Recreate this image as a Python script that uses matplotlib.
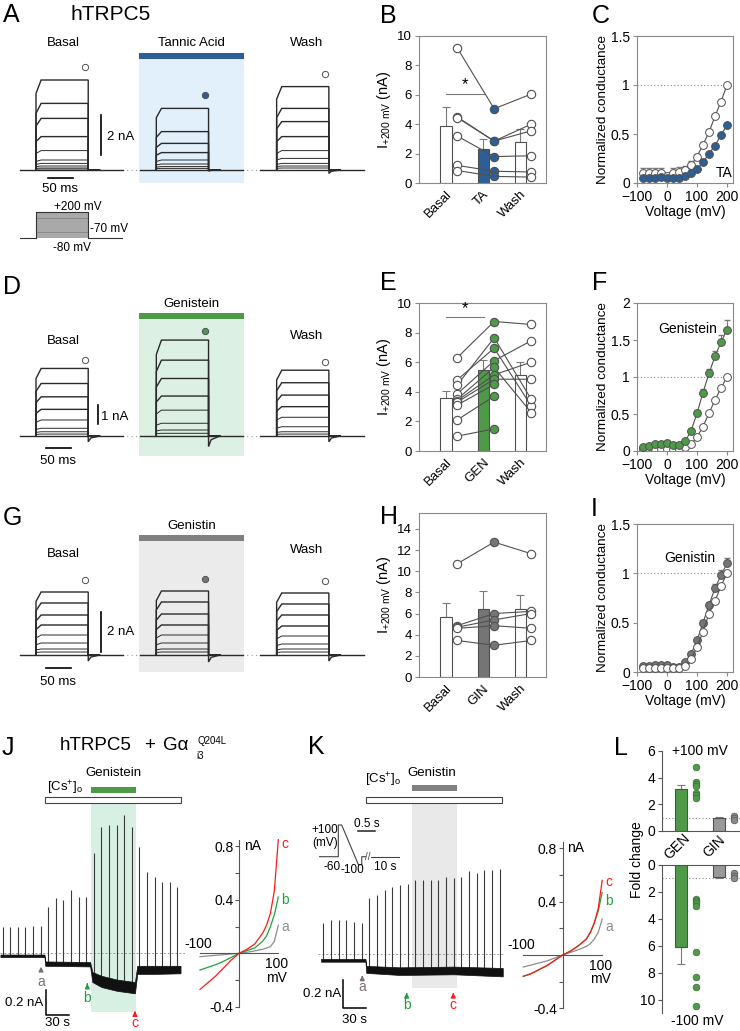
import numpy as np
import matplotlib
matplotlib.use('Agg')
import matplotlib.pyplot as plt
from matplotlib.patches import Rectangle
from matplotlib.transforms import blended_transform_factory

plt.rcParams['font.family'] = ['Liberation Sans', 'DejaVu Sans']
plt.rcParams['mathtext.fontset'] = 'custom'
plt.rcParams['mathtext.rm'] = 'Liberation Sans'
plt.rcParams['mathtext.it'] = 'Liberation Sans:italic'
plt.rcParams['mathtext.bf'] = 'Liberation Sans:bold'
plt.rcParams['font.size'] = 9.5
plt.rcParams['axes.linewidth'] = 0.8

# ======================= DATA =======================
# A / D / G : example current traces, steady current (nA) at each voltage step
A_basal_amp = [4.5, 3.33, 2.58, 1.67, 0.97, 0.5, 0.33, 0.2, 0.1, 0.05]
A_ta_amp = [3.08, 1.92, 1.33, 0.87, 0.5, 0.3, 0.17, 0.08]
A_wash_amp = [4.17, 3.08, 2.42, 1.67, 0.97, 0.58, 0.33, 0.2, 0.1]
A_tail = [0.0, 0.05, 0.17]
D_basal_amp = [3.5, 2.72, 2.03, 1.38, 0.83, 0.4, 0.22, 0.1]
D_gen_amp = [4.97, 3.93, 2.98, 2.07, 1.34, 0.66, 0.31, 0.14]
D_wash_amp = [3.41, 2.76, 2.12, 1.52, 0.97, 0.48, 0.22, 0.1]
D_tail = [0.3, 0.55, 0.3]
G_basal_amp = [3.15, 2.6, 2.0, 1.5, 1.0, 0.6, 0.3, 0.15]
G_gin_amp = [3.2, 2.65, 2.05, 1.5, 1.0, 0.6, 0.3, 0.15]
G_wash_amp = [3.1, 2.55, 2.0, 1.45, 0.95, 0.55, 0.3, 0.15]
G_tail = [0.3, 0.35, 0.3]
PULSE_MS = 102
PROTO_STEPS = [-70, -60, -50, -40, -30, -20, -10, 0, 10, 20, 30, 40, 50, 60, 70,
               80, 90, 100, 110, 120, 130, 140, 150, 160, 170, 180, 190, 200]

# B / E / H : I+200 mV (nA)
cond_B = ['Basal', 'TA', 'Wash']
B_mean = [3.9, 2.3, 2.78]
B_err = [1.25, 0.7, 0.9]
B_basal = [9.2, 4.5, 4.45, 3.2, 1.2, 0.85]
B_ta = [5.05, 2.85, 2.85, 1.8, 0.8, 0.45]
B_wash = [6.05, 4.0, 3.55, 1.85, 0.75, 0.4]

cond_E = ['Basal', 'GEN', 'Wash']
E_mean = [3.58, 5.48, 5.14]
E_err = [0.45, 0.65, 0.85]
E_basal = [6.3, 4.8, 4.45, 3.85, 3.5, 3.4, 3.3, 3.1, 2.1, 1.0]
E_gen = [8.75, 6.95, 7.65, 6.1, 5.65, 5.15, 4.85, 4.5, 3.7, 1.5]
E_wash = [8.55, 3.05, 3.5, 7.45, 2.6, 6.0, 4.85, np.nan, np.nan, np.nan]

cond_H = ['Basal', 'GIN', 'Wash']
H_mean = [5.66, 6.4, 6.38]
H_err = [1.3, 1.7, 1.4]
H_basal = [10.7, 4.85, 4.7, 4.6, 3.45]
H_gin = [12.75, 6.0, 5.4, 4.85, 3.0]
H_wash = [11.65, 6.2, 6.0, 4.6, 3.45]

# C / F / I : normalized conductance
V_g = [-80, -60, -40, -20, 0, 20, 40, 60, 80, 100, 120, 140, 160, 180, 200]
C_ctrl = [0.1, 0.1, 0.1, 0.1, 0.07, 0.1, 0.11, 0.13, 0.18, 0.27, 0.39, 0.52, 0.68, 0.83, 1.0]
C_ctrl_err = [0.05, 0.05, 0.05, 0.05, 0.03, 0.05, 0.05, 0.04, 0.04, 0.03, 0.03, 0.03, 0.02, 0.02, 0.0]
C_ta = [0.05, 0.05, 0.05, 0.06, 0.05, 0.05, 0.05, 0.07, 0.1, 0.146, 0.21, 0.3, 0.38, 0.49, 0.59]
C_ta_err = [0.01, 0.01, 0.01, 0.01, 0.01, 0.01, 0.01, 0.01, 0.01, 0.01, 0.02, 0.02, 0.02, 0.02, 0.02]
F_ctrl = [0.03, 0.03, 0.03, 0.03, 0.03, 0.03, 0.03, 0.05, 0.09, 0.19, 0.33, 0.51, 0.69, 0.85, 1.0]
F_ctrl_err = [0.01] * 14 + [0.0]
F_gen = [0.06, 0.07, 0.09, 0.1, 0.11, 0.08, 0.08, 0.13, 0.27, 0.51, 0.79, 1.05, 1.28, 1.47, 1.64]
F_gen_err = [0.01, 0.01, 0.01, 0.01, 0.01, 0.01, 0.01, 0.02, 0.03, 0.04, 0.05, 0.06, 0.07, 0.1, 0.13]
I_ctrl = [0.04, 0.04, 0.04, 0.04, 0.04, 0.04, 0.04, 0.06, 0.13, 0.25, 0.41, 0.59, 0.72, 0.87, 1.0]
I_ctrl_err = [0.01] * 14 + [0.0]
I_gin = [0.06, 0.065, 0.07, 0.075, 0.07, 0.05, 0.055, 0.1, 0.18, 0.32, 0.5, 0.68, 0.85, 0.98, 1.1]
I_gin_err = [0.01, 0.01, 0.01, 0.01, 0.01, 0.01, 0.01, 0.01, 0.02, 0.02, 0.03, 0.03, 0.04, 0.05, 0.06]

# J / K : time courses (s, nA)
sweep_t = [0, 10, 20, 30, 40, 50, 60, 70, 80, 90, 100, 110,
           120, 130, 140, 150, 160, 170, 180, 190, 200, 210, 220, 230]
J_peak = [0.21, 0.21, 0.21, 0.21, 0.22, 0.22, 0.37, 0.44, 0.43, 0.51, 0.45, 0.45,
          0.80, 1.01, 1.03, 1.03, 1.11, 1.01, 0.85, 0.65, 0.61, 0.57, 0.57, 0.53]
J_base = [-0.02] * 6 + [-0.09] * 6 + [-0.2, -0.23, -0.25, -0.27, -0.28, -0.29] + [-0.14] * 6
J_env_t = [-3, 55, 56, 115, 118, 130, 150, 174, 177, 200, 234]
J_env_hi = [-0.01, -0.01, -0.065, -0.07, -0.15, -0.18, -0.21, -0.23, -0.1, -0.1, -0.1]
J_env_lo = [-0.03, -0.03, -0.1, -0.105, -0.23, -0.27, -0.3, -0.32, -0.165, -0.165, -0.16]
J_cs = [55.7, 234.6]
J_drug = [116, 176]
J_marks = {'a': 50.4, 'b': 111.3, 'c': 174}

K_peak = [0.22, 0.24, 0.24, 0.24, 0.23, 0.22, 0.40, 0.42, 0.46, 0.48, 0.49, 0.50,
          0.53, 0.53, 0.53, 0.53, 0.55, 0.54, 0.55, 0.59, 0.58, 0.60, 0.60, 0.61]
K_base = [-0.045] * 6 + [-0.13] * 18
K_env_t = [-3, 55, 56, 100, 170, 234]
K_env_hi = [-0.035, -0.035, -0.085, -0.095, -0.09, -0.1]
K_env_lo = [-0.055, -0.055, -0.135, -0.15, -0.145, -0.16]
K_cs = [55.3, 232.6]
K_drug = [115.3, 174.8]
K_marks = {'a': 50.8, 'b': 108.7, 'c': 169.5}
K_proto_t = [-0.55, 0.0, 0.0, 0.1, 0.59, 0.69, 0.69, 0.8]
K_proto_v = [-60, -60, 100, 100, -100, -100, -60, -60]

# I-V ramps at the marked times
V_iv = [-100, -80, -60, -40, -20, 0, 20, 40, 60, 70, 80, 90, 100]
J_iv_a = [-0.025, -0.02, -0.015, -0.01, -0.005, 0, 0.008, 0.018, 0.03, 0.04, 0.05, 0.09, 0.21]
J_iv_b = [-0.125, -0.105, -0.085, -0.06, -0.03, 0, 0.02, 0.04, 0.09, 0.13, 0.2, 0.29, 0.42]
J_iv_c = [-0.27, -0.22, -0.17, -0.11, -0.05, 0, 0.03, 0.07, 0.15, 0.21, 0.3, 0.47, 0.85]
K_iv_a = [-0.09, -0.075, -0.06, -0.045, -0.022, 0, 0.02, 0.04, 0.065, 0.085, 0.12, 0.17, 0.27]
K_iv_b = [-0.16, -0.14, -0.11, -0.08, -0.04, 0, 0.03, 0.07, 0.12, 0.17, 0.24, 0.33, 0.47]
K_iv_c = [-0.16, -0.14, -0.11, -0.08, -0.04, 0, 0.03, 0.07, 0.12, 0.17, 0.24, 0.35, 0.56]

# L : fold change
L_groups = ['GEN', 'GIN']
L_up_mean = [3.15, 1.0]
L_up_err = [0.3, 0.03]
L_up_gen = [4.8, 3.7, 3.55, 3.4, 2.85, 2.7, 2.5]
L_up_gin = [1.15, 1.0, 0.85]
L_dn_mean = [6.08, 0.88]
L_dn_err = [1.28, 0.05]
L_dn_gen = [2.5, 2.65, 2.85, 3.05, 6.5, 8.3, 9.05, 10.5]
L_dn_gin = [0.6, 0.8, 1.0]

# ======================= STYLE =======================
BLUE = '#2d5f96'
BLUE_SH = '#e2f0fc'
GREEN = '#4f9a48'
GREEN_SH = '#dcf0e4'
GIN_C = '#757575'
GRAY_SH = '#ebebeb'
EDGE = '#505050'
SPINE = '#8a8a8a'
TRACE = '#2a2a2a'
ERRC = '#7a7a7a'
GREEN_IV = '#22a03c'
RED_IV = '#ff1a1a'
GRAY_IV = '#8c8c8c'

W, H = 740, 1031
fig = plt.figure(figsize=(W / 100, H / 100), dpi=100)


def px_axes(x0, y0, x1, y1):
    ax = fig.add_axes([x0 / W, 1 - y1 / H, (x1 - x0) / W, (y1 - y0) / H])
    ax.patch.set_alpha(0)
    return ax


def ftext(x, y, s, **kw):
    kw.setdefault('ha', 'center')
    kw.setdefault('va', 'center')
    fig.text(x / W, 1 - y / H, s, **kw)


def frect(x0, y0, x1, y1, **kw):
    fig.add_artist(Rectangle((x0 / W, 1 - y1 / H), (x1 - x0) / W, (y1 - y0) / H,
                             transform=fig.transFigure, **kw))


def fy(py):
    return 1 - py / H


# ======================= A / D / G =======================
MS_PX = 0.512
T0_PX = 36.0
OFFS = [0, 235, 470]


def row_axes(y_top, y_bot, base_px, px_per_nA):
    ax = px_axes(0, y_top, 370, y_bot)
    ax.set_xlim((0 - T0_PX) / MS_PX, (370 - T0_PX) / MS_PX)
    ax.set_ylim((base_px - y_bot) / px_per_nA, (base_px - y_top) / px_per_nA)
    ax.axis('off')
    return ax


def draw_row(ax, amps_list, tails, mark_colors, mark_off):
    ax.plot([-32, OFFS[2] + 172], [0, 0], ls=(0, (1, 3)), color='#9a9a9a', lw=0.8)
    for off, amps, tail, mc in zip(OFFS, amps_list, tails, mark_colors):
        ax.plot([off - 32, off + 170], [0, 0], color=TRACE, lw=1.0)
        for k, a in enumerate(amps):
            tl = tail if k == 0 else 0
            t = [off, off, off + 10, off + PULSE_MS, off + PULSE_MS, off + PULSE_MS + 5, off + PULSE_MS + 22]
            y = [0, 0.85 * a, a, a, -tl, -0.35 * tl, 0]
            ax.plot(t, y, color=TRACE, lw=1.0 if k < 4 else 0.7, solid_joinstyle='miter')
        ax.plot(off + 95, amps[0] + mark_off, 'o', ms=4.5, mfc=mc, mec=EDGE, mew=0.7)


# --- A
axA = row_axes(40, 200, 170, 20)
frect(139.3, 59.3, 243.7, 182.7, fc=BLUE_SH, ec='none', zorder=-1)
frect(139.3, 52.7, 243.7, 59.3, fc=BLUE, ec='none')
draw_row(axA, [A_basal_amp, A_ta_amp, A_wash_amp], A_tail, ['white', BLUE, 'white'], 0.65)
axA.plot([126.4, 126.4], [0.75, 2.75], color='k', lw=1.2)
axA.plot([22.9, 72.9], [-0.415, -0.415], color='k', lw=1.2)
ftext(106.7, 136.7, '2 nA', ha='left')
ftext(60.5, 189, '50 ms')
ftext(63.3, 43.3, 'Basal')
ftext(191.5, 43.3, 'Tannic Acid')
ftext(306.7, 43.3, 'Wash')
ftext(3, 15, 'A', fontsize=18, ha='left')
ftext(70, 14, 'hTRPC5', fontsize=15, ha='left')

# voltage protocol
axP = px_axes(20, 205, 123, 242)
axP.set_xlim((20 - T0_PX) / MS_PX, (123 - T0_PX) / MS_PX)
axP.set_ylim(-80 - 4 / 0.0929, 200 + 7 / 0.0929)
axP.axis('off')
for v in PROTO_STEPS:
    axP.plot([0, 0, PULSE_MS, PULSE_MS], [-80, v, v, -80], color='#777777', lw=0.45)
axP.plot([0, 0, PULSE_MS, PULSE_MS], [-80, 200, 200, -80], color='#333333', lw=0.8)
axP.plot([-31, 0], [-80, -80], color='#333333', lw=0.8)
axP.plot([PULSE_MS, 170], [-80, -80], color='#333333', lw=0.8)
ftext(78.3, 206.5, '+200 mV', fontsize=8.5)
ftext(90.5, 229.3, '-70 mV', fontsize=8.5, ha='left')
ftext(72, 248.3, '-80 mV', fontsize=8.5)

# --- D
axD = row_axes(320, 462, 436, 19.3)
frect(139.3, 319.3, 243.7, 455.7, fc=GREEN_SH, ec='none', zorder=-1)
frect(139.3, 313.3, 243.7, 319.3, fc=GREEN, ec='none')
draw_row(axD, [D_basal_amp, D_gen_amp, D_wash_amp], D_tail, ['white', GREEN, 'white'], 0.45)
axD.plot([120.5, 120.5], [0.6, 1.6], color='k', lw=1.2)
axD.plot([19, 69], [-0.61, -0.61], color='k', lw=1.2)
ftext(101, 416.7, '1 nA', ha='left')
ftext(58.3, 461, '50 ms')
ftext(63.3, 340.7, 'Basal')
ftext(191.7, 304, 'Genistein')
ftext(306.7, 336, 'Wash')
ftext(3, 287, 'D', fontsize=18, ha='left')

# --- G
axG = row_axes(560, 690, 655, 20)
frect(139.3, 541, 243.7, 672, fc=GRAY_SH, ec='none', zorder=-1)
frect(139.3, 535, 243.7, 541, fc='#808080', ec='none')
draw_row(axG, [G_basal_amp, G_gin_amp, G_wash_amp], G_tail, ['white', GIN_C, 'white'], 0.6)
axG.plot([126.4, 126.4], [0.15, 2.15], color='k', lw=1.2)
axG.plot([19, 69], [-0.65, -0.65], color='k', lw=1.2)
ftext(106.7, 632, '2 nA', ha='left')
ftext(58.3, 682, '50 ms')
ftext(63.3, 554.3, 'Basal')
ftext(191.7, 525.7, 'Genistin')
ftext(306.7, 550, 'Wash')
ftext(3, 518, 'G', fontsize=18, ha='left')


# ======================= B / E / H =======================
def bar_panel(ax, cats, means, errs, groups, drug_color, ylim, yticks):
    x = [0, 1, 2]
    colors = ['white', drug_color, 'white']
    for xi, m, e in zip(x, means, errs):
        ax.errorbar([xi], [m], yerr=[[0], [e]], color=ERRC, capsize=3, lw=0.8, capthick=0.8, zorder=1)
    ax.bar(x, means, width=0.3, color=colors, edgecolor=EDGE, lw=0.8, zorder=2)
    pxs = [0.3, 1.3, 2.3]
    n = len(groups[0])
    for j in range(n):
        ax.plot(pxs, [groups[0][j], groups[1][j], groups[2][j]], color=EDGE, lw=0.8, zorder=3)
    for i in range(3):
        ax.plot([pxs[i]] * n, groups[i], 'o', ms=6.0, mfc=colors[i], mec=EDGE, mew=0.8, zorder=4, ls='none')
    ax.set_xlim(-0.73, 2.7)
    ax.set_ylim(*ylim)
    ax.set_yticks(yticks)
    ax.set_xticks(x)
    ax.set_xticklabels(cats, rotation=45, ha='right', rotation_mode='anchor')
    ax.tick_params(axis='x', length=0, pad=4)
    ax.tick_params(axis='y', length=3, color=SPINE, pad=2)
    for s in ax.spines.values():
        s.set_color(SPINE)
    ax.set_ylabel(r'I$_{\mathregular{+200\ mV}}$ (nA)', labelpad=3, fontsize=10.5)


axB = px_axes(419, 36, 546, 183)
bar_panel(axB, cond_B, B_mean, B_err, [B_basal, B_ta, B_wash], BLUE, (0, 10), [0, 2, 4, 6, 8, 10])
axB.plot([0, 1.02], [6.05, 6.05], color=ERRC, lw=0.8)
axB.text(0.5, 6.15, '*', ha='center', va='bottom', fontsize=12)
ftext(380, 16, 'B', fontsize=18, ha='left')

axE = px_axes(419, 303, 546, 451)
bar_panel(axE, cond_E, E_mean, E_err, [E_basal, E_gen, E_wash], GREEN, (0, 10), [0, 2, 4, 6, 8, 10])
axE.plot([0, 1.02], [9.05, 9.05], color=ERRC, lw=0.8)
axE.text(0.5, 9.1, '*', ha='center', va='bottom', fontsize=12)
ftext(380, 283, 'E', fontsize=18, ha='left')

axH = px_axes(419, 513, 546, 677)
bar_panel(axH, cond_H, H_mean, H_err, [H_basal, H_gin, H_wash], GIN_C, (0, 15.5), [0, 2, 4, 6, 8, 10, 12, 14])
ftext(380, 517, 'H', fontsize=18, ha='left')


# ======================= C / F / I =======================
def g_panel(ax, ctrl, ctrl_err, drug, drug_err, dcol, ylim, yticks, ylabels, label, lxy, drug_on_top=True):
    z = [0] * len(V_g)

    def series(vals, err, fc, zz):
        ax.plot(V_g, vals, color=EDGE, lw=0.8, zorder=zz)
        ax.errorbar(V_g, vals, yerr=[z, err], fmt='none', ecolor=ERRC, capsize=2, lw=0.7, zorder=zz)
        ax.plot(V_g, vals, 'o', ms=5.6, mfc=fc, mec=EDGE, mew=0.7, zorder=zz + 0.5, ls='none')
    ax.plot([-100, 200], [1, 1], ls=(0, (1, 2)), color='#888888', lw=0.8, zorder=1)
    if drug_on_top:
        series(ctrl, ctrl_err, 'white', 2)
        series(drug, drug_err, dcol, 3)
    else:
        series(drug, drug_err, dcol, 2)
        series(ctrl, ctrl_err, 'white', 3)
    ax.set_xlim(-100, 220)
    ax.set_ylim(*ylim)
    ax.set_xticks([-100, 0, 100, 200])
    ax.set_yticks(yticks)
    ax.set_yticklabels(ylabels)
    ax.tick_params(length=3, color=SPINE, pad=2, labelsize=10)
    for s in ax.spines.values():
        s.set_color(SPINE)
    ax.set_xlabel('Voltage (mV)', labelpad=1, fontsize=10)
    ax.set_ylabel('Normalized conductance', labelpad=1, fontsize=9.7)
    ax.text(lxy[0], lxy[1], label, ha='center', va='center', fontsize=10)


axC = px_axes(637, 36, 733, 183)
g_panel(axC, C_ctrl, C_ctrl_err, C_ta, C_ta_err, BLUE, (0, 1.5), [0, 0.5, 1, 1.5],
        ['0', '0.5', '1', '1.5'], 'TA', (190, 0.1))
ftext(592, 16, 'C', fontsize=18, ha='left')

axF = px_axes(637, 303, 733, 451)
g_panel(axF, F_ctrl, F_ctrl_err, F_gen, F_gen_err, GREEN, (0, 2), [0, 0.5, 1, 1.5, 2],
        ['0', '0.5', '1', '1.5', '2'], 'Genistein', (70, 1.65))
ftext(592, 283, 'F', fontsize=18, ha='left')

axI = px_axes(637, 524, 733, 672)
g_panel(axI, I_ctrl, I_ctrl_err, I_gin, I_gin_err, GIN_C, (0, 1.5), [0, 0.5, 1, 1.5],
        ['0', '0.5', '1', '1.5'], 'Genistin', (75, 1.16), drug_on_top=False)
ftext(591, 509, 'I', fontsize=18, ha='left')


# ======================= J / K =======================
def time_course(ax, peaks, bases, env_t, env_hi, env_lo, cs, drug, drug_col, shade_col,
                marks, cs_label_x, cs_label_y, drug_label, bar_y, shade_bottom,
                sb_t, sb_i, sb_px, text_y):
    bl = blended_transform_factory(ax.transData, fig.transFigure)
    ax.add_patch(Rectangle((drug[0], fy(shade_bottom)), drug[1] - drug[0], fy(803.3) - fy(shade_bottom),
                           transform=bl, fc=shade_col, ec='none', zorder=0, clip_on=False))
    ax.add_patch(Rectangle((cs[0], fy(803.3)), cs[1] - cs[0], fy(796.7) - fy(803.3),
                           transform=bl, fc='white', ec='#444444', lw=0.8, zorder=3, clip_on=False))
    ax.add_patch(Rectangle((drug[0], fy(bar_y + 6)), drug[1] - drug[0], fy(bar_y) - fy(bar_y + 6),
                           transform=bl, fc=drug_col, ec='none', zorder=3, clip_on=False))
    ax.axhline(0, ls=(0, (2, 2)), color='#999999', lw=0.7, zorder=1)
    ax.vlines(sweep_t, bases, peaks, color='#3a3a3a', lw=0.8, zorder=2)
    ax.fill_between(env_t, env_lo, env_hi, color='#111111', lw=0.5, zorder=3)
    cols = {'a': '#7a7070', 'b': '#1f9e3a', 'c': '#ff1a1a'}
    for key, t in marks.items():
        tip, tail, ty = text_y[key]
        ax.annotate('', xy=(t, tip), xytext=(t, tail),
                    arrowprops=dict(arrowstyle='-|>', color=cols[key], lw=0.9, mutation_scale=7))
        ax.text(t, ty, key, color=cols[key], ha='center', va='center', fontsize=10)
    t0, i0 = sb_t, sb_i
    ax.plot([t0, t0, t0 + 30], [i0 + 0.2, i0, i0], color='k', lw=1.1, clip_on=False)
    ax.text(t0 - 3, i0 + 0.1, '0.2 nA', ha='right', va='center')
    ax.text(t0 + 15, sb_px, '30 s', ha='center', va='center')
    ax.axis('off')
    ftext(cs_label_x, cs_label_y, r'[Cs$^{+}$]$_{\mathregular{o}}$')
    ftext(drug_label[0], drug_label[1], drug_label[2])


axJ = px_axes(0, 805, 185, 1031)
axJ.set_xlim((0 - 2.7) / 0.76, (185 - 2.7) / 0.76)
axJ.set_ylim((953.3 - 1031) / 125, (953.3 - 805) / 125)
time_course(axJ, J_peak, J_base, J_env_t, J_env_hi, J_env_lo, J_cs, J_drug, GREEN, '#d8efe4',
            J_marks, 65, 788, (113.3, 773.3, 'Genistein'), 786.7, 1011.7,
            57, -0.494, -0.558,
            {'a': (-0.085, -0.16, -0.23), 'b': (-0.22, -0.27, -0.36), 'c': (-0.44, -0.5, -0.56)})
ftext(2, 748, 'J', fontsize=18, ha='left')
ftext(60, 746, 'hTRPC5', fontsize=13.5, ha='left')
ftext(150, 746, '+', fontsize=13.5)
ftext(163, 746, 'Gα', fontsize=13.5, ha='left')
ftext(196, 756, 'i3', fontsize=7, ha='left')
ftext(198, 741, 'Q204L', fontsize=7, ha='left')

axK = px_axes(318, 805, 505, 1031)
axK.set_xlim((318 - 323.3) / 0.767, (505 - 323.3) / 0.767)
axK.set_ylim((954 - 1031) / 140, (954 - 805) / 140)
time_course(axK, K_peak, K_base, K_env_t, K_env_hi, K_env_lo, K_cs, K_drug, '#808080', '#e9e9e9',
            K_marks, 383.3, 780, (431.7, 773.3, 'Genistin'), 785, 988.3,
            26, -0.388, -0.471,
            {'a': (-0.133, -0.185, -0.234), 'b': (-0.257, -0.305, -0.364), 'c': (-0.257, -0.305, -0.364)})
ftext(308, 747, 'K', fontsize=18, ha='left')

# K ramp protocol inset
axKP = px_axes(318, 818, 400, 872)
axKP.set_xlim(-(338.3 - 318) / 34, (400 - 338.3) / 34)
axKP.set_ylim(-60 - (872 - 856.7) / 0.198, 100 + (825 - 818) / 0.198)
axKP.axis('off')
axKP.plot(K_proto_t, K_proto_v, color='#444444', lw=0.8)
axKP.plot([0.95, 1.8], [-60, -60], color='#444444', lw=0.8)
axKP.text(0.875, -60, '//', ha='center', va='center', fontsize=7, color='#444444')
axKP.plot([0.58, 1.08], [70, 70], color='#222222', lw=1.1)
ftext(325, 830, '+100', fontsize=8.5)
ftext(325, 843.3, '(mV)', fontsize=8.5)
ftext(331.7, 867, '-60', fontsize=8.5)
ftext(352, 870, '-100', fontsize=8.5)
ftext(367, 824, '0.5 s', fontsize=8.5)
ftext(385, 867, '10 s', fontsize=8.5)


def iv_inset(x0, x1, y_top, y_bot, v0px, px_mV, i0px, px_nA, a, b, c, lab_y):
    ax = px_axes(x0, y_top, x1, y_bot)
    ax.set_xlim((x0 - v0px) / px_mV, (x1 - v0px) / px_mV)
    ax.set_ylim((i0px - y_bot) / px_nA, (i0px - y_top) / px_nA)
    ax.plot(V_iv, a, color=GRAY_IV, lw=0.9)
    ax.plot(V_iv, b, color=GREEN_IV, lw=0.9)
    ax.plot(V_iv, c, color=RED_IV, lw=0.9)
    for s in ['top', 'right']:
        ax.spines[s].set_visible(False)
    ax.spines['left'].set_position(('data', 0))
    ax.spines['bottom'].set_position(('data', 0))
    ax.spines['left'].set_bounds(-0.4, 0.85)
    ax.spines['bottom'].set_bounds(-100, 100)
    ax.spines['left'].set_color('#555555')
    ax.spines['bottom'].set_color('#555555')
    ax.set_yticks([-0.4, -0.2, 0.2, 0.4, 0.6, 0.8])
    ax.set_yticklabels(['-0.4', '', '', '0.4', '', '0.8'])
    ax.tick_params(axis='y', length=3, color='#555555', pad=1, labelsize=10)
    ax.set_xticks([])
    ax.text(-104, 0.02, '-100', ha='center', va='bottom', fontsize=10)
    ax.text(96, -0.03, '100\nmV', ha='center', va='top', linespacing=0.95, fontsize=10)
    ax.text(12, 0.8, 'nA', ha='left', va='center', fontsize=10)
    ax.text(117, lab_y[2], 'c', color=RED_IV, ha='center', va='center', fontsize=10)
    ax.text(117, lab_y[1], 'b', color=GREEN_IV, ha='center', va='center', fontsize=10)
    ax.text(117, lab_y[0], 'a', color=GRAY_IV, ha='center', va='center', fontsize=10)
    return ax


iv_inset(188, 292, 835, 1012, 239.15, 0.3915, 953.3, 133.75, J_iv_a, J_iv_b, J_iv_c, (0.2, 0.4, 0.82))
iv_inset(511, 615, 835, 1012, 562.7, 0.395, 955, 133.25, K_iv_a, K_iv_b, K_iv_c, (0.21, 0.405, 0.55))

# ======================= L =======================
def l_axes(ax, means, errs, gen_pts, gin_pts):
    for xi, m, e in zip([0, 1], means, errs):
        ax.errorbar([xi], [m], yerr=[[0], [e]], color=ERRC, capsize=3, lw=0.8, capthick=0.8, zorder=1)
    ax.bar([0, 1], means, width=0.3, color=[GREEN, '#999999'], edgecolor=EDGE, lw=0.8, zorder=2)
    ax.plot([0.39] * len(gen_pts), gen_pts, 'o', ms=4.8, mfc=GREEN, mec='#3c6b37', mew=0.5, ls='none', zorder=3)
    ax.plot([1.39] * len(gin_pts), gin_pts, 'o', ms=4.8, mfc='#8a8a8a', mec='#555555', mew=0.5, ls='none', zorder=3)
    ax.set_xlim(-0.5, 1.55)
    ax.plot([-0.5, 1.55], [1, 1], ls=(0, (1, 2)), color='#888888', lw=0.8, zorder=0)
    ax.spines['right'].set_visible(False)
    ax.spines['left'].set_color('#555555')
    ax.set_xticks([])
    ax.tick_params(axis='y', length=3, color='#555555', pad=2, labelsize=10)


axL1 = px_axes(662, 751, 740, 831)
l_axes(axL1, L_up_mean, L_up_err, L_up_gen, L_up_gin)
axL1.set_ylim(0, 6)
axL1.spines['top'].set_visible(False)
axL1.spines['bottom'].set_color('#555555')
axL1.set_yticks([0, 2, 4, 6])

axL2 = px_axes(662, 865, 740, 1013)
l_axes(axL2, L_dn_mean, L_dn_err, L_dn_gen, L_dn_gin)
axL2.set_ylim(11, 0)
axL2.spines['bottom'].set_visible(False)
axL2.spines['top'].set_color('#555555')
axL2.set_yticks([0, 2, 4, 6, 8, 10])

ftext(676.7, 846.7, L_groups[0], rotation=45, fontsize=10)
ftext(714, 846.7, L_groups[1], rotation=45, fontsize=10)
ftext(637, 860, 'Fold change', rotation=90, fontsize=10)
ftext(700, 751, '+100 mV', fontsize=10)
ftext(697, 1021, '-100 mV', fontsize=10)
ftext(614, 748, 'L', fontsize=18, ha='left')

fig.savefig('out.png', dpi=100)
